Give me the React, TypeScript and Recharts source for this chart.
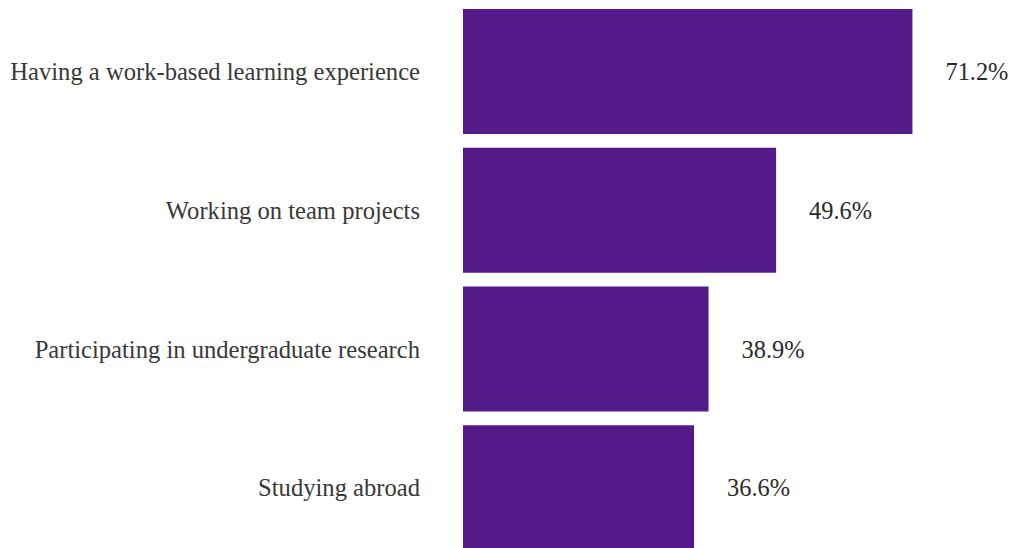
import React from 'react';
import { BarChart, Bar, XAxis, YAxis, LabelList } from 'recharts';

const categories = [
    'Having a work-based learning experience',
    'Working on team projects',
    'Participating in undergraduate research',
    'Studying abroad',
];
const shares = [71.2, 49.6, 38.9, 36.6];

const data = categories.map((name, i) => ({ name, value: shares[i] }));

const font = '"Liberation Serif", "Times New Roman", serif';

export default function App() {
    return (
        <div style={{ position: 'absolute', left: 0, top: 0, width: 1011, height: 548, overflow: 'hidden', background: '#fff' }}>
            <BarChart
                width={1011}
                height={560}
                data={data}
                layout="vertical"
                margin={{ top: 2, right: 43, bottom: 3, left: 0 }}
                barCategoryGap={7}
            >
                <XAxis type="number" domain={[0, 80]} hide />
                <YAxis
                    type="category"
                    dataKey="name"
                    width={463}
                    axisLine={false}
                    tickLine={false}
                    tickSize={0}
                    tickMargin={43}
                    tick={{ fontSize: 24.6, fill: '#383838', fontFamily: font }}
                />
                <Bar dataKey="value" fill="#551a8a" isAnimationActive={false}>
                    <LabelList
                        dataKey="value"
                        position="right"
                        offset={33}
                        formatter={(v: number) => `${v.toFixed(1)}%`}
                        style={{ fontSize: 24.4, fill: '#2a2a2a', fontFamily: font }}
                    />
                </Bar>
            </BarChart>
        </div>
    );
}
